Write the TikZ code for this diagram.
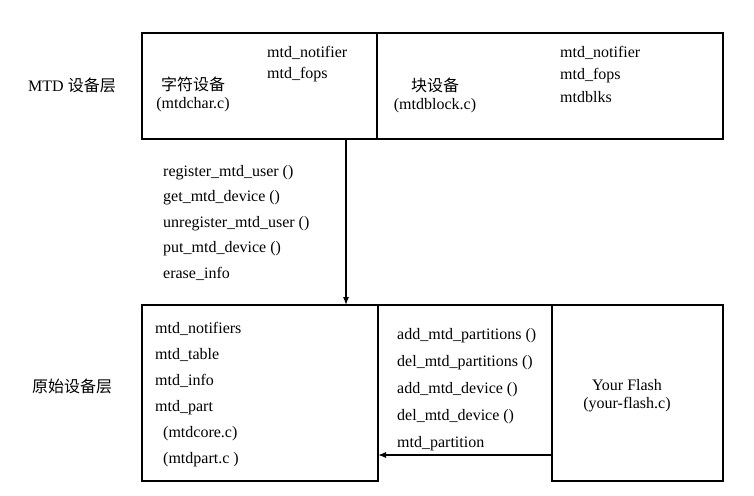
\documentclass[tikz,border=0pt]{standalone}
\usepackage{fontspec}
\setmainfont{Liberation Serif}
\newfontfamily\cjk{Noto Sans CJK SC}
\usetikzlibrary{arrows.meta, positioning, calc}

\begin{document}
\begin{tikzpicture}[x=1pt,y=-1pt,
  % boxes of the two layers
  layer/.style={draw,line width=1.2pt,inner sep=0pt,outer sep=0pt},
  txt/.style={inner sep=0pt,font=\fontsize{16}{18}\selectfont},
  lst/.style={inner sep=0pt,anchor=north west,align=left},
  arr/.style={-{Latex[length=8pt,width=6pt]},line width=1.2pt}]
  \useasboundingbox (0,0) rectangle (754,495);

  % MTD device layer
  \node[layer,minimum width=235pt,minimum height=106pt](chardev) at (259.5,86) {};
  \node[layer,minimum width=346pt,minimum height=106pt,right=0pt of chardev](blkdev) {};
  % raw device layer
  \node[layer,minimum width=236pt,minimum height=176pt](core) at (260,393) {};
  \node[layer,minimum width=171pt,minimum height=176pt](flash) at (637.5,393) {};
  \draw[line width=1.2pt](core.north east)--(flash.north west);

  \node[txt](mtdlayer) at (72,85) {MTD {\cjk 设备层}};
  \node[txt](rawlayer) at (72,386) {\cjk 原始设备层};

  \node[txt,align=center](charlbl) at (193,94) {{\cjk 字符设备}\\(mtdchar.c)};
  \node[lst,font=\fontsize{16}{21.5}\selectfont](charops) at (267,46)
    {mtd\_notifier\\mtd\_fops};
  \node[txt,align=center](blklbl) at (435,95) {{\cjk 块设备}\\(mtdblock.c)};
  \node[lst,font=\fontsize{16}{22.5}\selectfont](blkops) at (560,46)
    {mtd\_notifier\\mtd\_fops\\mtdblks};

  \node[lst,font=\fontsize{16}{25.5}\selectfont](userapi) at (163,165)
    {register\_mtd\_user ()\\get\_mtd\_device ()\\unregister\_mtd\_user ()\\
     put\_mtd\_device ()\\erase\_info};

  \node[lst,font=\fontsize{16}{26}\selectfont](coredata) at (155,322)
    {mtd\_notifiers\\mtd\_table\\mtd\_info\\mtd\_part\\
     \hspace*{8pt}(mtdcore.c)\\\hspace*{8pt}(mtdpart.c )};

  \node[lst,font=\fontsize{16}{27}\selectfont](partapi) at (397,328)
    {add\_mtd\_partitions ()\\del\_mtd\_partitions ()\\add\_mtd\_device ()\\
     del\_mtd\_device ()\\mtd\_partition};

  \node[txt,align=center](flashlbl) at (627,396) {Your Flash\\(your-flash.c)};

  \draw[arr]($(chardev.south east)+(-31,0)$)--($(core.north east)+(-32,0)$);
  \draw[arr]($(flash.south west)+(0,-26)$) coordinate (fa)--(core.east |- fa);
\end{tikzpicture}
\end{document}
